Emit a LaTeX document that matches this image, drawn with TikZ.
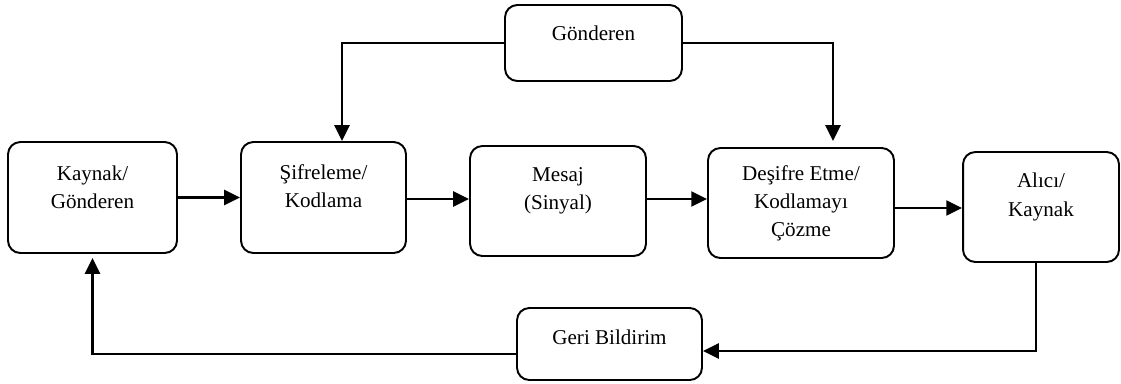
\documentclass[tikz,border=0pt]{standalone}
\usepackage{fontspec}
\setmainfont{Liberation Serif}
\usepackage{tikz}
\usetikzlibrary{arrows.meta}
\tikzset{
  box/.style = {draw=black, rounded corners=7pt, line width=1.1pt},
  txt/.style = {align=center, font=\fontsize{12}{16}\selectfont},
  arr/.style = {line width=1.4pt, -{Triangle[length=9pt,width=8.5pt]}},
}

\begin{document}
\begin{tikzpicture}[x=0.02cm, y=-0.02cm]
            \useasboundingbox (0,0) rectangle (1121,383);
            % boxes
            \node[box, minimum width=3.54cm, minimum height=1.52cm] (gonderen) at (593.5,43) {};
            \node[box, minimum width=3.38cm, minimum height=2.22cm] (kaynak) at (92.5,197.5) {};
            \node[box, minimum width=3.30cm, minimum height=2.22cm] (sifre) at (323.5,197.5) {};
            \node[box, minimum width=3.52cm, minimum height=2.20cm] (mesaj) at (558,201) {};
            \node[box, minimum width=3.72cm, minimum height=2.20cm] (desifre) at (801,203) {};
            \node[box, minimum width=3.12cm, minimum height=2.20cm] (alici) at (1041,207) {};
            \node[box, minimum width=3.70cm, minimum height=1.44cm] (geri) at (609.5,344) {};
            % texts
            \node[txt] (gonderentxt) at ([yshift=0.2cm]gonderen.center) {Gönderen};
            \node[txt] (kaynaktxt) at ([yshift=0.2cm]kaynak.center) {Kaynak/\\Gönderen};
            \node[txt] (sifretxt) at ([yshift=0.22cm]sifre.center) {Şifreleme/\\Kodlama};
            \node[txt] (mesajtxt) at ([yshift=0.2cm]mesaj.center) {Mesaj\\(Sinyal)};
            \node[txt] (desifretxt) at (desifre.center) {Deşifre Etme/\\Kodlamayı\\Çözme};
            \node[txt] (alicitxt) at ([yshift=0.2cm]alici.center) {Alıcı/\\Kaynak};
            \node[txt] (geritxt) at ([yshift=0.14cm]geri.center) {Geri Bildirim};
            % arrows
            \draw[arr] (kaynak.east) -- (sifre.west);
            \draw[arr] ([yshift=-0.03cm]sifre.east) -- ([yshift=-0.03cm]sifre.east -| mesaj.west);
            \draw[arr] ([yshift=0.04cm]mesaj.east) -- ([yshift=0.04cm]mesaj.east -| desifre.west);
            \draw[arr] ([yshift=-0.1cm]desifre.east) -- ([yshift=-0.1cm]desifre.east -| alici.west);
            \draw[arr] (gonderen.west) -| ([xshift=0.37cm]sifre.north);
            \draw[arr] (gonderen.east) -| ([xshift=0.64cm,yshift=0.12cm]desifre.north);
            \draw[arr] ([xshift=-0.1cm]alici.south) |- ([yshift=-0.14cm]geri.east);
            \draw[arr] ([yshift=-0.2cm]geri.west) -| ([yshift=-0.08cm]kaynak.south);
        \end{tikzpicture}
\end{document}
